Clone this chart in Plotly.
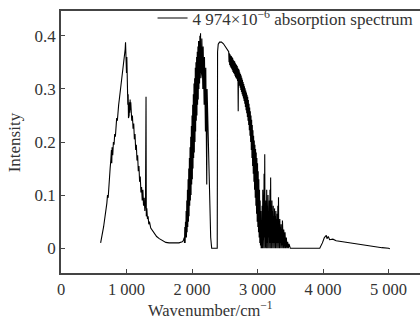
import plotly.graph_objects as go

# ---- data ----
wn_band1 = [
    605, 650, 700, 710, 720, 730, 740, 750, 760, 770, 775, 780, 790, 800, 810, 820, 830, 840, 850, 860,
    870, 880, 890, 900, 910, 920, 930, 940, 950, 960, 970, 980, 985, 990, 995, 1000, 1005, 1010, 1015,
    1020, 1025, 1030, 1035, 1040, 1045, 1050, 1055, 1060, 1065, 1070, 1075, 1080, 1090, 1100, 1110,
    1120, 1130, 1140, 1150, 1160, 1170, 1180, 1190, 1200, 1210, 1220, 1230, 1240, 1250, 1260, 1270,
    1280, 1290, 1298, 1302, 1310, 1320, 1330, 1340, 1350, 1370, 1400, 1430, 1460, 1500, 1550, 1600,
    1650, 1700, 1750, 1800, 1850, 1870,
]
int_band1 = [
    0.010, 0.040, 0.085, 0.100, 0.095, 0.120, 0.130, 0.150, 0.165, 0.185, 0.160, 0.190, 0.175, 0.200,
    0.195, 0.215, 0.210, 0.235, 0.245, 0.240, 0.265, 0.270, 0.280, 0.290, 0.305, 0.310, 0.330, 0.335,
    0.350, 0.355, 0.370, 0.375, 0.388, 0.370, 0.355, 0.330, 0.360, 0.300, 0.320, 0.270, 0.290, 0.245,
    0.265, 0.250, 0.275, 0.255, 0.280, 0.260, 0.275, 0.250, 0.265, 0.240, 0.250, 0.225, 0.235, 0.205,
    0.215, 0.185, 0.195, 0.165, 0.175, 0.145, 0.155, 0.125, 0.135, 0.105, 0.115, 0.090, 0.110, 0.080,
    0.095, 0.070, 0.085, 0.285, 0.060, 0.075, 0.055, 0.060, 0.045, 0.050, 0.038, 0.032, 0.028, 0.022,
    0.018, 0.014, 0.011, 0.010, 0.010, 0.010, 0.010, 0.012, 0.015,
]
wn_band2 = [
    1880, 1885, 1890, 1895, 1900, 1905, 1910, 1915, 1920, 1925, 1930, 1935, 1940, 1945, 1950, 1955,
    1960, 1965, 1970, 1975, 1980, 1985, 1990, 1995, 2000, 2005, 2010, 2015, 2020, 2025, 2030, 2035,
    2040, 2045, 2050, 2055, 2060, 2065, 2070, 2075, 2080, 2085, 2090, 2095, 2100, 2105, 2110, 2115,
    2120, 2125, 2130, 2135, 2140, 2145, 2150, 2155, 2160, 2165, 2170, 2175, 2180, 2185, 2190, 2195,
    2200, 2205, 2210, 2215, 2220, 2225, 2230, 2240, 2250, 2260, 2270, 2285, 2300, 2385,
]
int_band2 = [
    0.020, 0.010, 0.040, 0.010, 0.050, 0.020, 0.070, 0.020, 0.090, 0.030, 0.110, 0.040, 0.130, 0.050,
    0.150, 0.060, 0.170, 0.080, 0.190, 0.090, 0.210, 0.100, 0.230, 0.120, 0.250, 0.130, 0.270, 0.150,
    0.290, 0.170, 0.310, 0.180, 0.320, 0.200, 0.340, 0.220, 0.350, 0.240, 0.360, 0.250, 0.370, 0.270,
    0.380, 0.280, 0.390, 0.300, 0.390, 0.310, 0.400, 0.330, 0.405, 0.320, 0.400, 0.330, 0.395, 0.320,
    0.390, 0.300, 0.380, 0.290, 0.370, 0.270, 0.360, 0.250, 0.350, 0.220, 0.340, 0.180, 0.330, 0.120,
    0.300, 0.250, 0.180, 0.120, 0.070, 0.020, 0.000, 0.000,
]
wn_band3 = [
    2390, 2400, 2420, 2450, 2480, 2510, 2540, 2550, 2560, 2565, 2570, 2575, 2580, 2585, 2590, 2595,
    2600, 2605, 2610, 2615, 2620, 2625, 2630, 2635, 2640, 2645, 2650, 2655, 2660, 2665, 2670, 2675,
    2680, 2685, 2690, 2695, 2700, 2705, 2710, 2715, 2720, 2725, 2730, 2735, 2740, 2745, 2750, 2755,
    2760, 2765, 2770, 2775, 2780, 2785, 2790, 2795, 2800, 2805, 2810, 2815, 2820, 2825, 2830, 2835,
    2840, 2845, 2850, 2855, 2860, 2865, 2870, 2875, 2880, 2885, 2890, 2895, 2900, 2905, 2910, 2915,
    2920, 2925, 2930, 2935, 2940, 2945, 2950, 2955, 2960, 2965, 2970, 2975, 2980, 2985, 2990, 2995,
    3000, 3005, 3010, 3015, 3020, 3025, 3030, 3035, 3040, 3045, 3050, 3055, 3060, 3065,
    3070, 3075, 3080, 3085, 3090, 3095, 3100, 3105, 3110, 3115, 3120, 3125, 3130, 3135, 3140, 3145,
    3150, 3155, 3160, 3165, 3170, 3175, 3180, 3185, 3190, 3195, 3200, 3205, 3210, 3215, 3220, 3225,
    3230, 3235, 3240, 3245, 3250, 3255, 3260, 3265, 3270, 3275, 3280, 3285, 3290, 3295, 3300, 3305,
    3310, 3315, 3320, 3325, 3330, 3335, 3340, 3345, 3350, 3355, 3360, 3365, 3370, 3375, 3380, 3385,
    3390, 3395, 3400, 3405, 3410, 3415, 3420, 3430, 3440, 3450, 3460, 3470, 3480, 3500,
]
int_band3 = [
    0.370, 0.384, 0.388, 0.388, 0.385, 0.380, 0.375, 0.372, 0.370, 0.350, 0.367, 0.345, 0.365, 0.342,
    0.363, 0.340, 0.362, 0.338, 0.360, 0.335, 0.358, 0.332, 0.355, 0.330, 0.353, 0.328, 0.352, 0.325,
    0.349, 0.322, 0.347, 0.320, 0.345, 0.318, 0.343, 0.315, 0.340, 0.258, 0.337, 0.310, 0.334, 0.306,
    0.331, 0.302, 0.328, 0.298, 0.325, 0.294, 0.321, 0.290, 0.317, 0.286, 0.313, 0.282, 0.309, 0.277,
    0.305, 0.272, 0.301, 0.266, 0.297, 0.260, 0.293, 0.254, 0.289, 0.247, 0.285, 0.240, 0.279, 0.232,
    0.272, 0.222, 0.265, 0.212, 0.258, 0.200, 0.250, 0.185, 0.242, 0.170, 0.232, 0.155, 0.222, 0.140,
    0.212, 0.125, 0.203, 0.110, 0.195, 0.095, 0.187, 0.080, 0.180, 0.065, 0.170, 0.050, 0.160, 0.040,
    0.145, 0.030, 0.130, 0.020, 0.110, 0.010, 0.090, 0.005, 0.070, 0.000, 0.050, 0.000,
    0.080, 0.000, 0.110, 0.010, 0.090, 0.000, 0.140, 0.020, 0.177, 0.000, 0.120, 0.010, 0.090, 0.000,
    0.110, 0.010, 0.080, 0.000, 0.100, 0.020, 0.070, 0.000, 0.090, 0.010, 0.110, 0.000, 0.133, 0.010,
    0.080, 0.000, 0.090, 0.010, 0.070, 0.000, 0.080, 0.010, 0.060, 0.000, 0.075, 0.010, 0.060, 0.000,
    0.070, 0.010, 0.055, 0.000, 0.065, 0.010, 0.080, 0.000, 0.096, 0.010, 0.050, 0.000, 0.055, 0.010,
    0.040, 0.000, 0.045, 0.005, 0.035, 0.000, 0.052, 0.005, 0.030, 0.000, 0.035, 0.005, 0.025, 0.000,
    0.030, 0.000, 0.020, 0.000, 0.012, 0.000, 0.008, 0.000,
]
wn_tail = [3700, 3950, 3990, 4020, 4050, 4060, 4080, 4100, 4150, 4200, 4300, 4400, 4500, 4600,
           4700, 4800, 4900, 5000, 5020]
int_tail = [0.000, 0.000, 0.010, 0.020, 0.024, 0.018, 0.022, 0.016, 0.017, 0.014, 0.012, 0.010,
            0.008, 0.006, 0.004, 0.003, 0.001, 0.000, -0.001]

series_name = "4 974×10<sup>−6</sup> absorption spectrum"
x_tick_vals = [0, 1000, 2000, 3000, 4000, 5000]
x_tick_text = ["0", "1 000", "2 000", "3 000", "4 000", "5 000"]
y_tick_vals = [0, 0.1, 0.2, 0.3, 0.4]
x_title = "Wavenumber/cm<sup>−1</sup>"
y_title = "Intensity"

wavenumber = wn_band1 + wn_band2 + wn_band3 + wn_tail
intensity = int_band1 + int_band2 + int_band3 + int_tail

FONT = "Liberation Serif, Times New Roman, serif"
TXT = "#333333"
FS = 17

fig = go.Figure()
fig.add_trace(go.Scatter(
    x=wavenumber, y=intensity, mode="lines", name=series_name,
    line=dict(color="black", width=1.1),
))

fig.update_layout(
    width=420, height=321,
    margin=dict(l=61, r=0, t=9, b=48),
    paper_bgcolor="white", plot_bgcolor="white",
    font=dict(family=FONT, size=FS, color=TXT),
    showlegend=True,
    legend=dict(x=0.255, y=1.04, xanchor="left", yanchor="top",
                bgcolor="rgba(0,0,0,0)", borderwidth=0,
                font=dict(family=FONT, size=FS, color=TXT),
                itemwidth=30),
    annotations=[
        dict(text=x_title, xref="paper", yref="paper", x=(210 - 61) / 359, y=-0.092,
             xanchor="center", yanchor="top", showarrow=False,
             font=dict(family=FONT, size=16.5, color=TXT)),
        dict(text=y_title, xref="paper", yref="paper", x=-0.13, y=0.5,
             xanchor="center", yanchor="middle", textangle=-90, showarrow=False,
             font=dict(family=FONT, size=FS, color=TXT)),
    ],
)
fig.update_xaxes(
    range=[0, 5480], tickmode="array", tickvals=x_tick_vals, ticktext=x_tick_text,
    ticks="inside", ticklen=4, tickwidth=1, tickcolor="#444",
    showline=True, linecolor="#444", linewidth=1.5, mirror=True,
    showgrid=False, zeroline=False,
    tickfont=dict(family=FONT, size=16.5, color=TXT),
)
fig.update_yaxes(
    range=[-0.0467, 0.4467], tickmode="array", tickvals=y_tick_vals,
    ticks="inside", ticklen=4, tickwidth=1, tickcolor="#444",
    showline=True, linecolor="#444", linewidth=1.5, mirror=False,
    showgrid=False, zeroline=False,
)

fig.write_html("out.html")
